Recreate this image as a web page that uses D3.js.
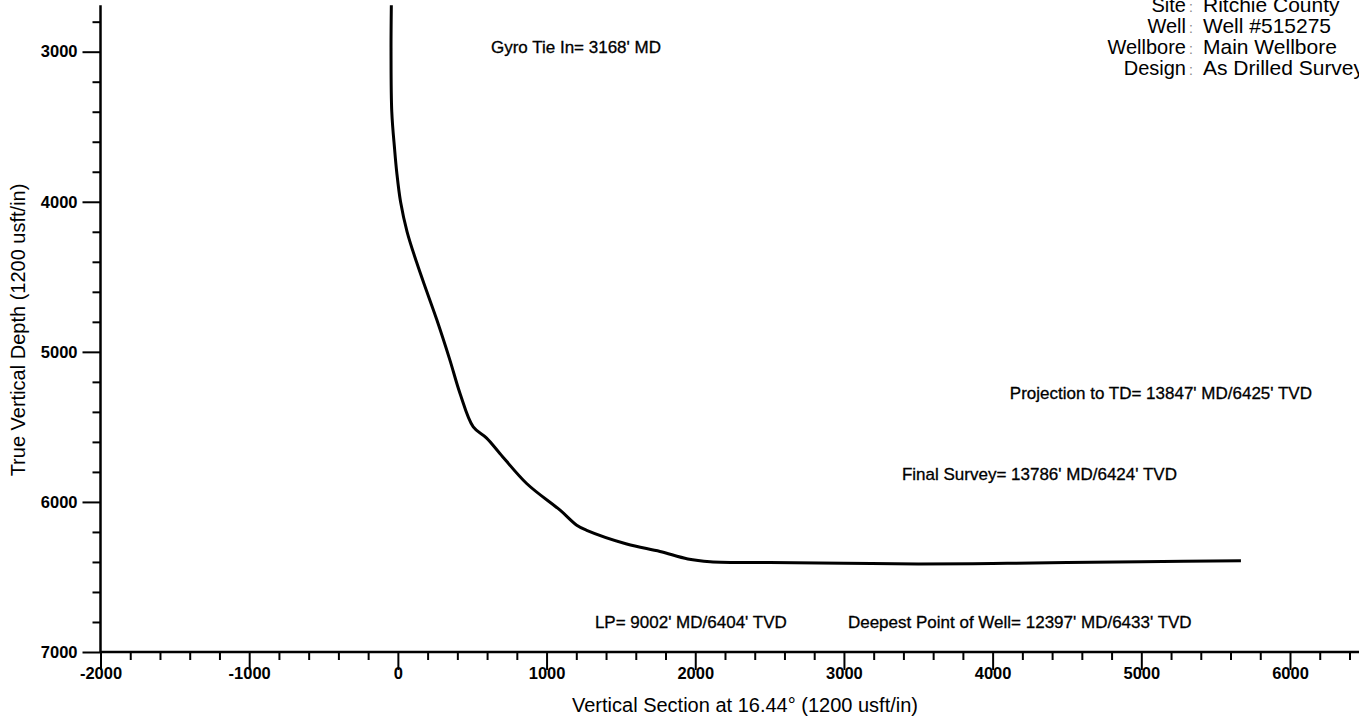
<!DOCTYPE html>
<html>
<head>
<meta charset="utf-8">
<script src="https://cdn.jsdelivr.net/npm/d3@7.9.0/dist/d3.min.js"></script>
<style>
  html, body { margin: 0; padding: 0; background: #fff; overflow: hidden; }
  svg { display: block; font-family: "Liberation Sans", Arial, sans-serif; }
</style>
</head>
<body>
<svg id="chart" width="1359" height="724"></svg>
<script>
// well path: vertical section (usft) vs true vertical depth (usft)
const vsValues = [-44, -46, -41, -22, -8, 18, 62, 125, 195, 263, 350, 418, 507, 597, 686, 866, 1091, 1203, 1270, 1539, 1763, 1950, 2100, 2500, 3000, 3500, 4000, 4500, 5000, 5670];
const tvdValues = [2690, 3000, 3400, 3650, 3800, 4000, 4200, 4400, 4600, 4790, 5055, 5277, 5500, 5575, 5677, 5877, 6055, 6155, 6189, 6280, 6330, 6380, 6398, 6404, 6408, 6413, 6410, 6404, 6398, 6392];

const xMajorTicks = [-2000, -1000, 0, 1000, 2000, 3000, 4000, 5000, 6000];
const yMajorTicks = [3000, 4000, 5000, 6000, 7000];

const headerLabels = ["Site", "Well", "Wellbore", "Design"];
const headerValues = ["Ritchie County", "Well #515275", "Main Wellbore", "As Drilled Survey"];

// annotation anchors (left edge of text) in chart units
const annotations = [
  { text: "Gyro Tie In= 3168' MD", vs: 626, tvd: 2969 },
  { text: "Projection to TD= 13847' MD/6425' TVD", vs: 4116, tvd: 5275 },
  { text: "Final Survey= 13786' MD/6424' TVD", vs: 3390, tvd: 5815 },
  { text: "LP= 9002' MD/6404' TVD", vs: 1325, tvd: 6802 },
  { text: "Deepest Point of Well= 12397' MD/6433' TVD", vs: 3027, tvd: 6802 }
];

const svg = d3.select("#chart");

const x = d3.scaleLinear().domain([-2000, 6000]).range([100.5, 1290]);
const y = d3.scaleLinear().domain([3000, 7000]).range([51.7, 652]);

const xMinor = d3.range(-2000, 6401, 200).filter(v => !xMajorTicks.includes(v));
const yMinor = d3.range(2800, 7001, 200).filter(v => !yMajorTicks.includes(v));

// x axis
const xAxisG = svg.append("g").attr("transform", `translate(0,${y(7000)})`);
xAxisG.append("g")
  .call(d3.axisBottom(x).tickValues(xMinor).tickSize(8).tickFormat(""));
xAxisG.append("g")
  .call(d3.axisBottom(x).tickValues(xMajorTicks).tickSize(18).tickPadding(-3)
    .tickFormat(d => d < 0 ? "-" + Math.abs(d) : d));
xAxisG.append("line")
  .attr("x1", x(-2000)).attr("x2", 1359)
  .attr("stroke", "#000").attr("stroke-width", 2.5);

// y axis
const yAxisG = svg.append("g").attr("transform", `translate(${x(-2000)},0)`);
yAxisG.append("g")
  .call(d3.axisLeft(y).tickValues(yMinor).tickSize(8).tickFormat(""));
yAxisG.append("g")
  .call(d3.axisLeft(y).tickValues(yMajorTicks).tickSize(18).tickPadding(5).tickFormat(d => d));
yAxisG.append("line")
  .attr("y1", y(2690)).attr("y2", y(7000))
  .attr("stroke", "#000").attr("stroke-width", 2.5);

svg.selectAll(".domain").remove();
svg.selectAll(".tick line").attr("stroke", "#000").attr("stroke-width", 2);
svg.selectAll(".tick text")
  .attr("fill", "#000")
  .style("font-size", "16.5px")
  .style("font-weight", "bold");

// axis titles
svg.append("text")
  .attr("x", 745).attr("y", 712)
  .attr("text-anchor", "middle")
  .style("font-size", "20px")
  .text("Vertical Section at 16.44° (1200 usft/in)");

svg.append("text")
  .attr("transform", `translate(25,330) rotate(-90)`)
  .attr("text-anchor", "middle")
  .style("font-size", "20px")
  .text("True Vertical Depth (1200 usft/in)");

// well path
const line = d3.line()
  .x((d, i) => x(vsValues[i]))
  .y(d => y(d))
  .curve(d3.curveCatmullRom.alpha(0.5));

svg.append("path")
  .datum(tvdValues)
  .attr("d", line)
  .attr("fill", "none")
  .attr("stroke", "#000")
  .attr("stroke-width", 3);

// annotations
svg.selectAll(".note")
  .data(annotations)
  .enter()
  .append("text")
  .attr("class", "note")
  .attr("x", d => x(d.vs))
  .attr("y", d => y(d.tvd))
  .attr("dy", "0.35em")
  .attr("stroke", "#000")
  .attr("stroke-width", 0.3)
  .style("font-size", "17px")
  .text(d => d.text);

// header block
const header = svg.append("g").style("font-size", "20px");
headerLabels.forEach((lab, i) => {
  const by = 12 + i * 21;
  header.append("text")
    .attr("x", 1186).attr("y", by)
    .attr("text-anchor", "end")
    .text(lab);
  header.append("text")
    .attr("x", 1189).attr("y", by)
    .attr("fill", "#888")
    .style("font-size", "14px")
    .text(":");
  header.append("text")
    .attr("x", 1203).attr("y", by)
    .style("font-size", "21px")
    .text(headerValues[i]);
});
</script>
</body>
</html>
